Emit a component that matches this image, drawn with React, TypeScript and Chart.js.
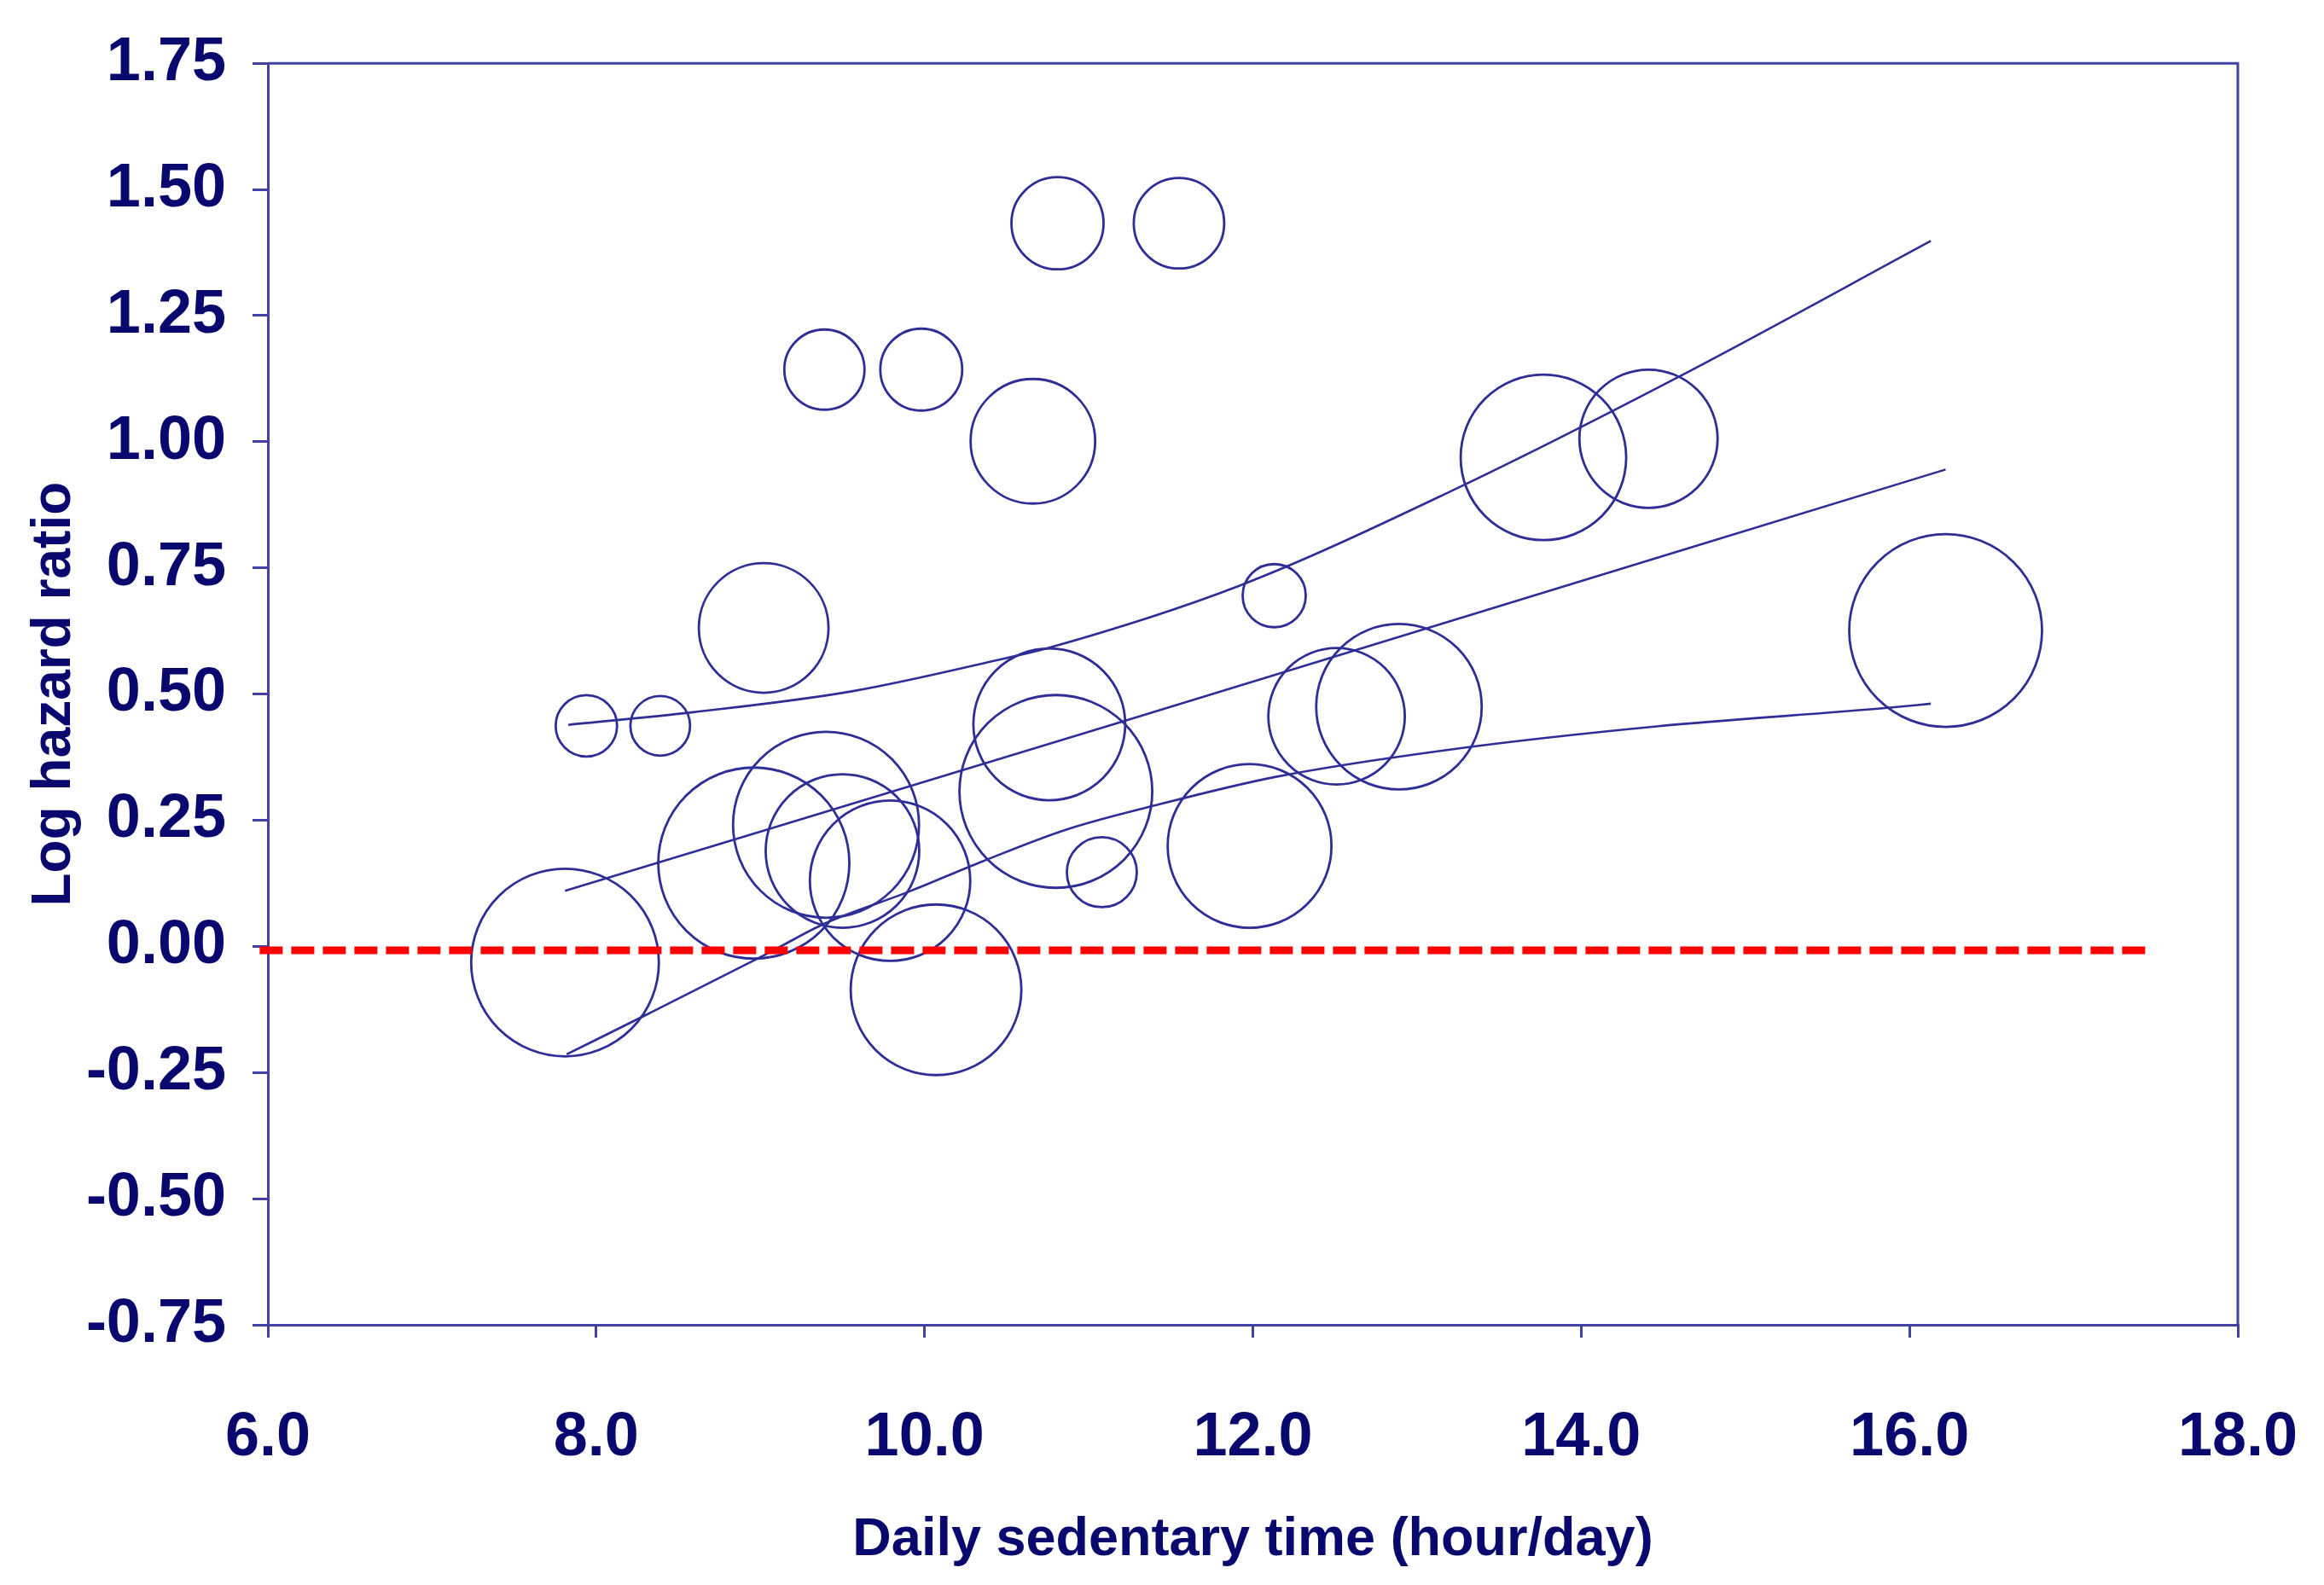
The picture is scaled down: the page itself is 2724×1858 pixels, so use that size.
import React, { useEffect, useRef } from "react";
import { Chart, registerables } from "chart.js";

Chart.register(...registerables);

// study points (x = hours/day, y = log HR, size = bubble radius)
const studyX = [10.81, 11.55, 9.39, 9.98, 10.66, 13.77, 14.41, 12.13, 9.02, 16.22, 7.94, 8.39,
    10.76, 10.8, 12.51, 12.89, 11.98, 11.08, 9.4, 8.96, 9.5, 9.79, 10.07, 7.81];
const studyY = [1.433, 1.433, 1.143, 1.143, 1.001, 0.969, 1.006, 0.695, 0.631, 0.626, 0.437, 0.437,
    0.44, 0.307, 0.456, 0.475, 0.199, 0.147, 0.241, 0.165, 0.189, 0.13, -0.086, -0.032];
const studySize = [54, 53, 47, 48, 73, 97, 81, 37, 76, 113, 36, 35,
    89, 113, 80, 97, 96, 41, 109, 112, 90, 94, 100, 110];

// meta-regression line and its confidence band
const fitX = [7.81, 11.22, 16.22];
const fitY = [0.11, 0.447, 0.945];
const upperX = [7.83, 8.59, 9.55, 10.48, 10.75, 11.92, 13.2, 14.59, 16.13];
const upperY = [0.439, 0.464, 0.505, 0.57, 0.591, 0.715, 0.901, 1.128, 1.398];
const lowerX = [7.82, 8.29, 9.05, 9.39, 9.91, 10.35, 10.86, 11.4, 12.14, 13.2, 14.46, 15.88, 16.13];
const lowerY = [-0.214, -0.138, -0.013, 0.045, 0.109, 0.168, 0.231, 0.279, 0.336, 0.39, 0.436, 0.473, 0.481];

// dashed reference line, drawn just under zero in the original
const zeroX = [5.95, 17.45];
const zeroY = [-0.008, -0.008];

const xTicks = [6, 8, 10, 12, 14, 16, 18];

const NAVY = "#08086e";
const AXIS = "#4242a4";
const MARK = "#2e2e96";
const FONT = "'Liberation Sans', Arial, sans-serif";

const toPoints = (xs: number[], ys: number[]) => xs.map((x, i) => ({ x, y: ys[i] }));

const framePlugin = {
    id: "frame",
    afterDatasetsDraw(chart: any) {
        const { ctx, chartArea } = chart;
        ctx.save();
        ctx.strokeStyle = AXIS;
        ctx.lineWidth = 3;
        ctx.beginPath();
        ctx.moveTo(chartArea.left, chartArea.top);
        ctx.lineTo(chartArea.right, chartArea.top);
        ctx.lineTo(chartArea.right, chartArea.bottom);
        ctx.stroke();
        ctx.restore();
    },
};

export default function App() {
    const canvasRef = useRef<HTMLCanvasElement | null>(null);
    const chartRef = useRef<Chart | null>(null);

    useEffect(() => {
        if (!canvasRef.current) return;
        if (chartRef.current) chartRef.current.destroy();

        const curve = (xs: number[], ys: number[]) => ({
            type: "line" as const,
            data: toPoints(xs, ys),
            borderColor: MARK,
            borderWidth: 2.6,
            pointRadius: 0,
            fill: false,
            cubicInterpolationMode: "monotone" as const,
        });

        chartRef.current = new Chart(canvasRef.current, {
            type: "bubble",
            data: {
                datasets: [
                    {
                        type: "line",
                        data: toPoints(zeroX, zeroY),
                        borderColor: "#ff0000",
                        borderWidth: 9,
                        borderDash: [27, 10],
                        pointRadius: 0,
                        fill: false,
                        clip: false,
                    } as any,
                    curve(fitX, fitY),
                    curve(upperX, upperY),
                    curve(lowerX, lowerY),
                    {
                        type: "bubble",
                        data: studyX.map((x, i) => ({ x, y: studyY[i], r: studySize[i] })),
                        backgroundColor: "rgba(0,0,0,0)",
                        borderColor: MARK,
                        borderWidth: 2.8,
                        hoverRadius: 0,
                        clip: false,
                    },
                ] as any,
            },
            options: {
                animation: false,
                responsive: true,
                maintainAspectRatio: false,
                events: [],
                layout: { autoPadding: false, padding: { top: 70, right: 101, left: 0, bottom: 0 } },
                plugins: {
                    legend: { display: false },
                    tooltip: { enabled: false },
                },
                scales: {
                    x: {
                        type: "linear",
                        min: 6,
                        max: 18,
                        afterBuildTicks: (scale: any) => {
                            scale.ticks = xTicks.map((value) => ({ value }));
                        },
                        afterFit: (scale: any) => {
                            scale.height = 305;
                            scale.paddingLeft = 0;
                            scale.paddingRight = 0;
                        },
                        ticks: {
                            color: NAVY,
                            padding: 75,
                            font: { family: FONT, size: 72, weight: "bold" },
                            callback: (v: any) => Number(v).toFixed(1),
                        },
                        grid: {
                            drawOnChartArea: false,
                            drawTicks: true,
                            tickLength: 15,
                            color: AXIS,
                            lineWidth: 3,
                        },
                        border: { color: AXIS, width: 3 },
                        title: {
                            display: true,
                            text: "Daily sedentary time (hour/day)",
                            color: NAVY,
                            font: { family: FONT, size: 63, weight: "bold" },
                            padding: { top: 0, bottom: 15 },
                        },
                    },
                    y: {
                        type: "linear",
                        min: -0.75,
                        max: 1.75,
                        afterFit: (scale: any) => {
                            scale.width = 314;
                        },
                        ticks: {
                            stepSize: 0.25,
                            color: NAVY,
                            padding: 31,
                            font: { family: FONT, size: 72, weight: "bold" },
                            callback: (v: any) => Number(v).toFixed(2),
                        },
                        grid: {
                            drawOnChartArea: false,
                            drawTicks: true,
                            tickLength: 18,
                            color: AXIS,
                            lineWidth: 3,
                        },
                        border: { color: AXIS, width: 3 },
                        title: {
                            display: true,
                            text: "Log hazard ratio",
                            color: NAVY,
                            font: { family: FONT, size: 64, weight: "bold" },
                            padding: { top: 26, bottom: 0 },
                        },
                    },
                },
            },
            plugins: [framePlugin],
        });

        return () => {
            chartRef.current?.destroy();
            chartRef.current = null;
        };
    }, []);

    return (
        <div style={{ position: "fixed", left: 0, top: 0, width: "2724px", height: "1858px", background: "#ffffff" }}>
            <canvas ref={canvasRef}></canvas>
        </div>
    );
}
